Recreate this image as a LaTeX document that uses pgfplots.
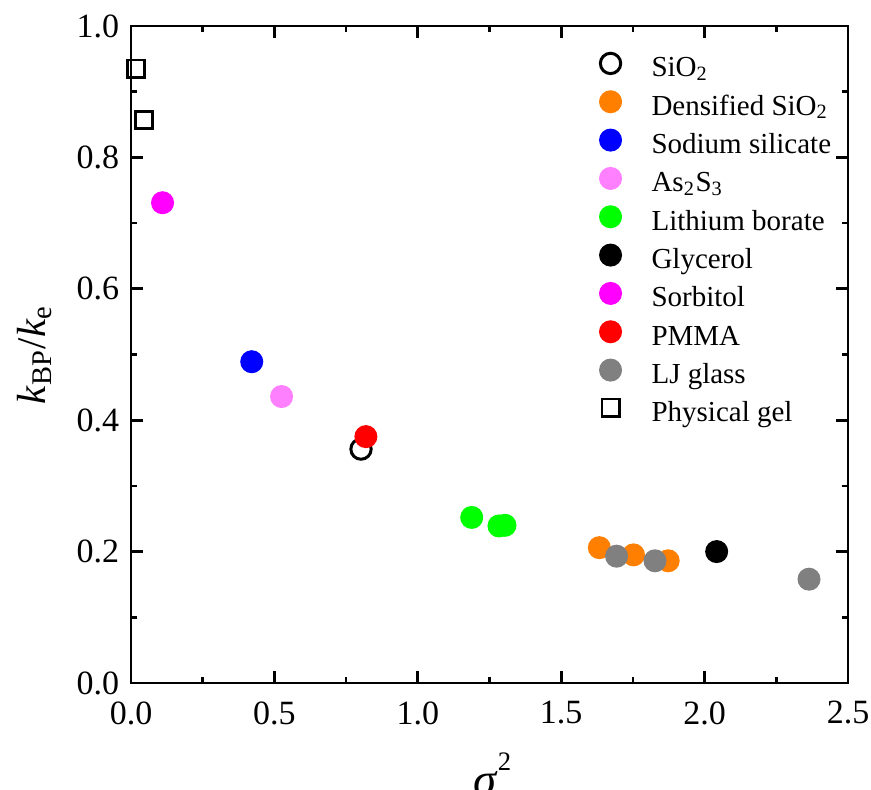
\documentclass[border=0pt]{standalone}
\usepackage{fontspec}
\setmainfont{Liberation Serif}
\usepackage{pgfplots}
\pgfplotsset{compat=1.18}
\definecolor{corange}{RGB}{255,128,0}
\definecolor{cblue}{RGB}{0,0,255}
\definecolor{cpink}{RGB}{255,128,255}
\definecolor{cgreen}{RGB}{0,255,0}
\definecolor{cmagenta}{RGB}{255,0,255}
\definecolor{cred}{RGB}{255,0,0}
\definecolor{cgrey}{RGB}{128,128,128}
\pgfplotsset{
  mleg/.style={only marks, legend image code/.code={\draw[##1] plot coordinates {(0pt,2.3pt)};}},
  fdot/.style={mleg, mark=*, mark size=3.2pt, mark options={draw=#1, fill=#1, line width=0.5pt}},
}
\begin{document}
\begin{tikzpicture}
\begin{axis}[
  width=215.1pt, height=197.1pt, scale only axis,
  xmin=0, xmax=2.5, ymin=0, ymax=1.0,
  xtick={0,0.5,1.0,1.5,2.0,2.5}, ytick={0,0.2,0.4,0.6,0.8,1.0},
  minor x tick num=1, minor y tick num=1,
  tick align=inside, major tick length=3.6pt, minor tick length=1.8pt,
  tick style={line width=0.8pt, black},
  axis line style={line width=0.8pt},
  /pgf/number format/fixed, /pgf/number format/fixed zerofill, /pgf/number format/precision=1,
  /pgf/number format/assume math mode=true,
  ticklabel style={font=\fontsize{10.2}{12}\selectfont},
  x tick label style={yshift=-2pt},
  xlabel={\fontsize{14}{16}\selectfont\textit{σ}\raisebox{7.6pt}{\fontsize{8}{9}\selectfont 2}},
  xlabel style={at={(axis description cs:0.504,0)}, anchor=base, yshift=-33.8pt},
  ylabel={\textit{k}\textsubscript{BP}/\textit{k}\textsubscript{e}},
  ylabel style={at={(axis description cs:0,0.5)}, anchor=center, yshift=28.8pt, font=\fontsize{12.2}{14}\selectfont},
  legend cell align=left,
  legend style={at={(0.653,0.9595)}, anchor=north west, draw=none, fill=none, inner sep=0pt,
    font=\fontsize{8.7}{10}\selectfont, row sep=0.75pt, column sep=8.1pt,
    nodes={inner sep=1pt, text height=6pt, text depth=2.5pt}},
]
\addplot[mleg, mark=o, mark size=3.05pt, mark options={line width=0.9pt, draw=black, fill=white}] coordinates {(0.802,0.356)};
\addlegendentry{SiO\textsubscript{2}}
\addplot[fdot=corange] coordinates {(1.633,0.206) (1.752,0.195) (1.873,0.186)};
\addlegendentry{Densified SiO\textsubscript{2}}
\addplot[fdot=cblue] coordinates {(0.421,0.489)};
\addlegendentry{Sodium silicate}
\addplot[fdot=cpink] coordinates {(0.525,0.436)};
\addlegendentry{As\textsubscript{2}S\textsubscript{3}}
\addplot[fdot=cgreen] coordinates {(1.188,0.252) (1.283,0.239) (1.304,0.240)};
\addlegendentry{Lithium borate}
\addplot[fdot=black] coordinates {(2.042,0.200)};
\addlegendentry{Glycerol}
\addplot[fdot=cmagenta] coordinates {(0.110,0.731)};
\addlegendentry{Sorbitol}
\addplot[fdot=cred] coordinates {(0.819,0.375)};
\addlegendentry{PMMA}
\addplot[fdot=cgrey] coordinates {(1.693,0.193) (1.827,0.186) (2.364,0.158)};
\addlegendentry{LJ glass}
\addplot[mleg, mark=square, mark size=2.6pt, mark options={line width=0.8pt, draw=black, fill=white}] coordinates {(0.018,0.935) (0.045,0.857)};
\addlegendentry{Physical gel}
\end{axis}
\pgfresetboundingbox
\useasboundingbox (-39.3pt,-32.1pt) rectangle (222pt,204.9pt);
\end{tikzpicture}
\end{document}
